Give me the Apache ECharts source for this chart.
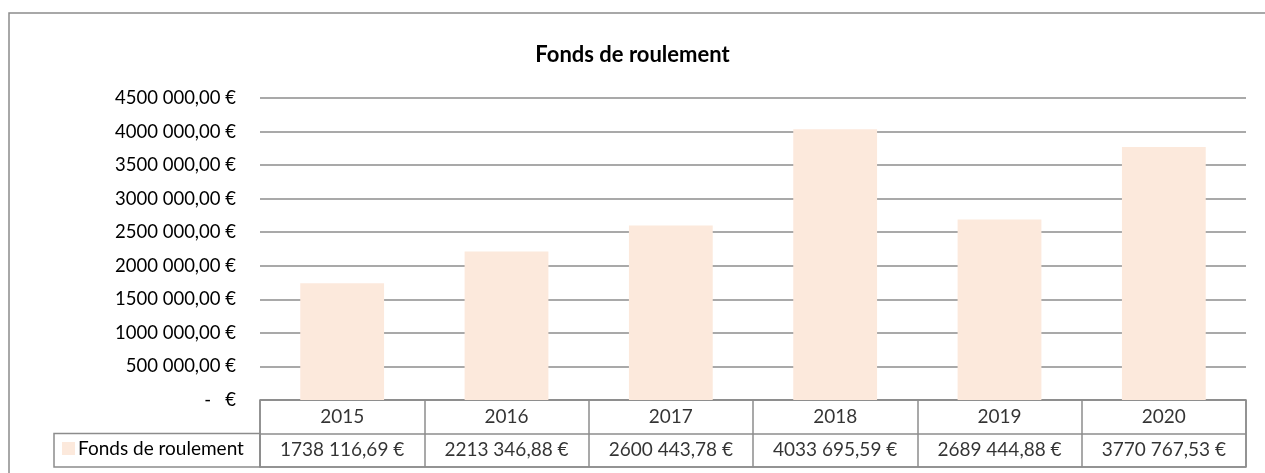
<!DOCTYPE html>
<html>
<head>
<meta charset="utf-8">
<script src="https://cdn.jsdelivr.net/npm/echarts@6/dist/echarts.min.js"></script>
<style>
  html, body { margin: 0; padding: 0; background: #fff; }
  #chart { width: 1265px; height: 473px; }
</style>
</head>
<body>
<div id="chart"></div>
<script>
// data
const years = ['2015', '2016', '2017', '2018', '2019', '2020'];
const fondsRoulement = [1738116.69, 2213346.88, 2600443.78, 4033695.59, 2689444.88, 3770767.53];
const seriesName = 'Fonds de roulement';
const tableRows = ['valeur', 'annee'];

const font = 'Lato, "Open Sans", sans-serif';
const barColor = '#FCE9DC';
const lineColor = '#8c8c8c';

function euro(v, dec) {
    if (v === 0) return '-   €';
    let parts = v.toFixed(dec).split('.');
    let ent = parts[0];
    // group thousands (only the last group gets a space, like the reference)
    let m = ent.length > 3 ? ent.slice(0, ent.length - 3) + ' ' + ent.slice(-3) : ent;
    return m + (dec ? ',' + parts[1] : '') + ' €';
}

let cells = [];
for (let i = 0; i < years.length; i++) {
    cells.push({ value: [years[i], 'annee'], txt: years[i] });
    cells.push({ value: [years[i], 'valeur'], txt: euro(fondsRoulement[i], 2) });
}

let box = document.getElementById('chart');
let mychart = echarts.init(box);
let options = {
    backgroundColor: '#fff',
    animation: false,
    title: {
        text: 'Fonds de roulement',
        left: 'center',
        top: 39,
        textStyle: { fontFamily: font, fontSize: 22, fontWeight: 'bold', color: '#000' }
    },
    legend: {
        left: 57,
        top: 434,
        padding: 5,
        icon: 'rect',
        itemWidth: 13,
        itemHeight: 13,
        itemGap: 4,
        textStyle: { fontFamily: font, fontSize: 19, color: '#000', padding: [0, 0, 0, -2] },
        data: [seriesName]
    },
    graphic: [
        { type: 'rect', shape: { x: 9, y: 13, width: 1280, height: 480 },
          style: { fill: 'none', stroke: '#8c8c8c', lineWidth: 1.5 }, silent: true },
        { type: 'rect', shape: { x: 54, y: 433.5, width: 206, height: 33.5 },
          style: { fill: 'none', stroke: lineColor, lineWidth: 1.5 }, silent: true }
    ],
    grid: [
        { left: 260, right: 19, top: 98, height: 302 },
        { left: 260, right: 19, top: 400, height: 67, show: true, borderColor: lineColor, borderWidth: 1.5 }
    ],
    xAxis: [
        {
            gridIndex: 0, type: 'category', data: years,
            axisLine: { show: false }, axisTick: { show: false }, axisLabel: { show: false }
        },
        {
            gridIndex: 1, type: 'category', data: years,
            axisLine: { show: false }, axisTick: { show: false }, axisLabel: { show: false },
            splitLine: { show: true, lineStyle: { color: lineColor, width: 1.5 } }
        }
    ],
    yAxis: [
        {
            gridIndex: 0, type: 'value', min: 0, max: 4500000, interval: 500000,
            axisLine: { show: false }, axisTick: { show: false },
            axisLabel: {
                fontFamily: font, fontSize: 18.5, color: '#000', margin: 24,
                formatter: v => euro(v, 2)
            },
            splitLine: { lineStyle: { color: lineColor, width: 1.5 } }
        },
        {
            gridIndex: 1, type: 'category', data: tableRows,
            axisLine: { show: false }, axisTick: { show: false }, axisLabel: { show: false },
            splitLine: { show: true, lineStyle: { color: lineColor, width: 1.5 } }
        }
    ],
    series: [
        {
            name: seriesName,
            type: 'bar',
            xAxisIndex: 0, yAxisIndex: 0,
            barWidth: '51%',
            itemStyle: { color: barColor },
            data: fondsRoulement
        },
        {
            name: 'table',
            type: 'scatter',
            xAxisIndex: 1, yAxisIndex: 1,
            symbolSize: 0,
            silent: true,
            label: {
                show: true, position: 'inside',
                fontFamily: font, fontSize: 19, color: '#000',
                formatter: p => p.data.txt
            },
            data: cells
        }
    ]
};
mychart.setOption(options);
</script>
</body>
</html>
